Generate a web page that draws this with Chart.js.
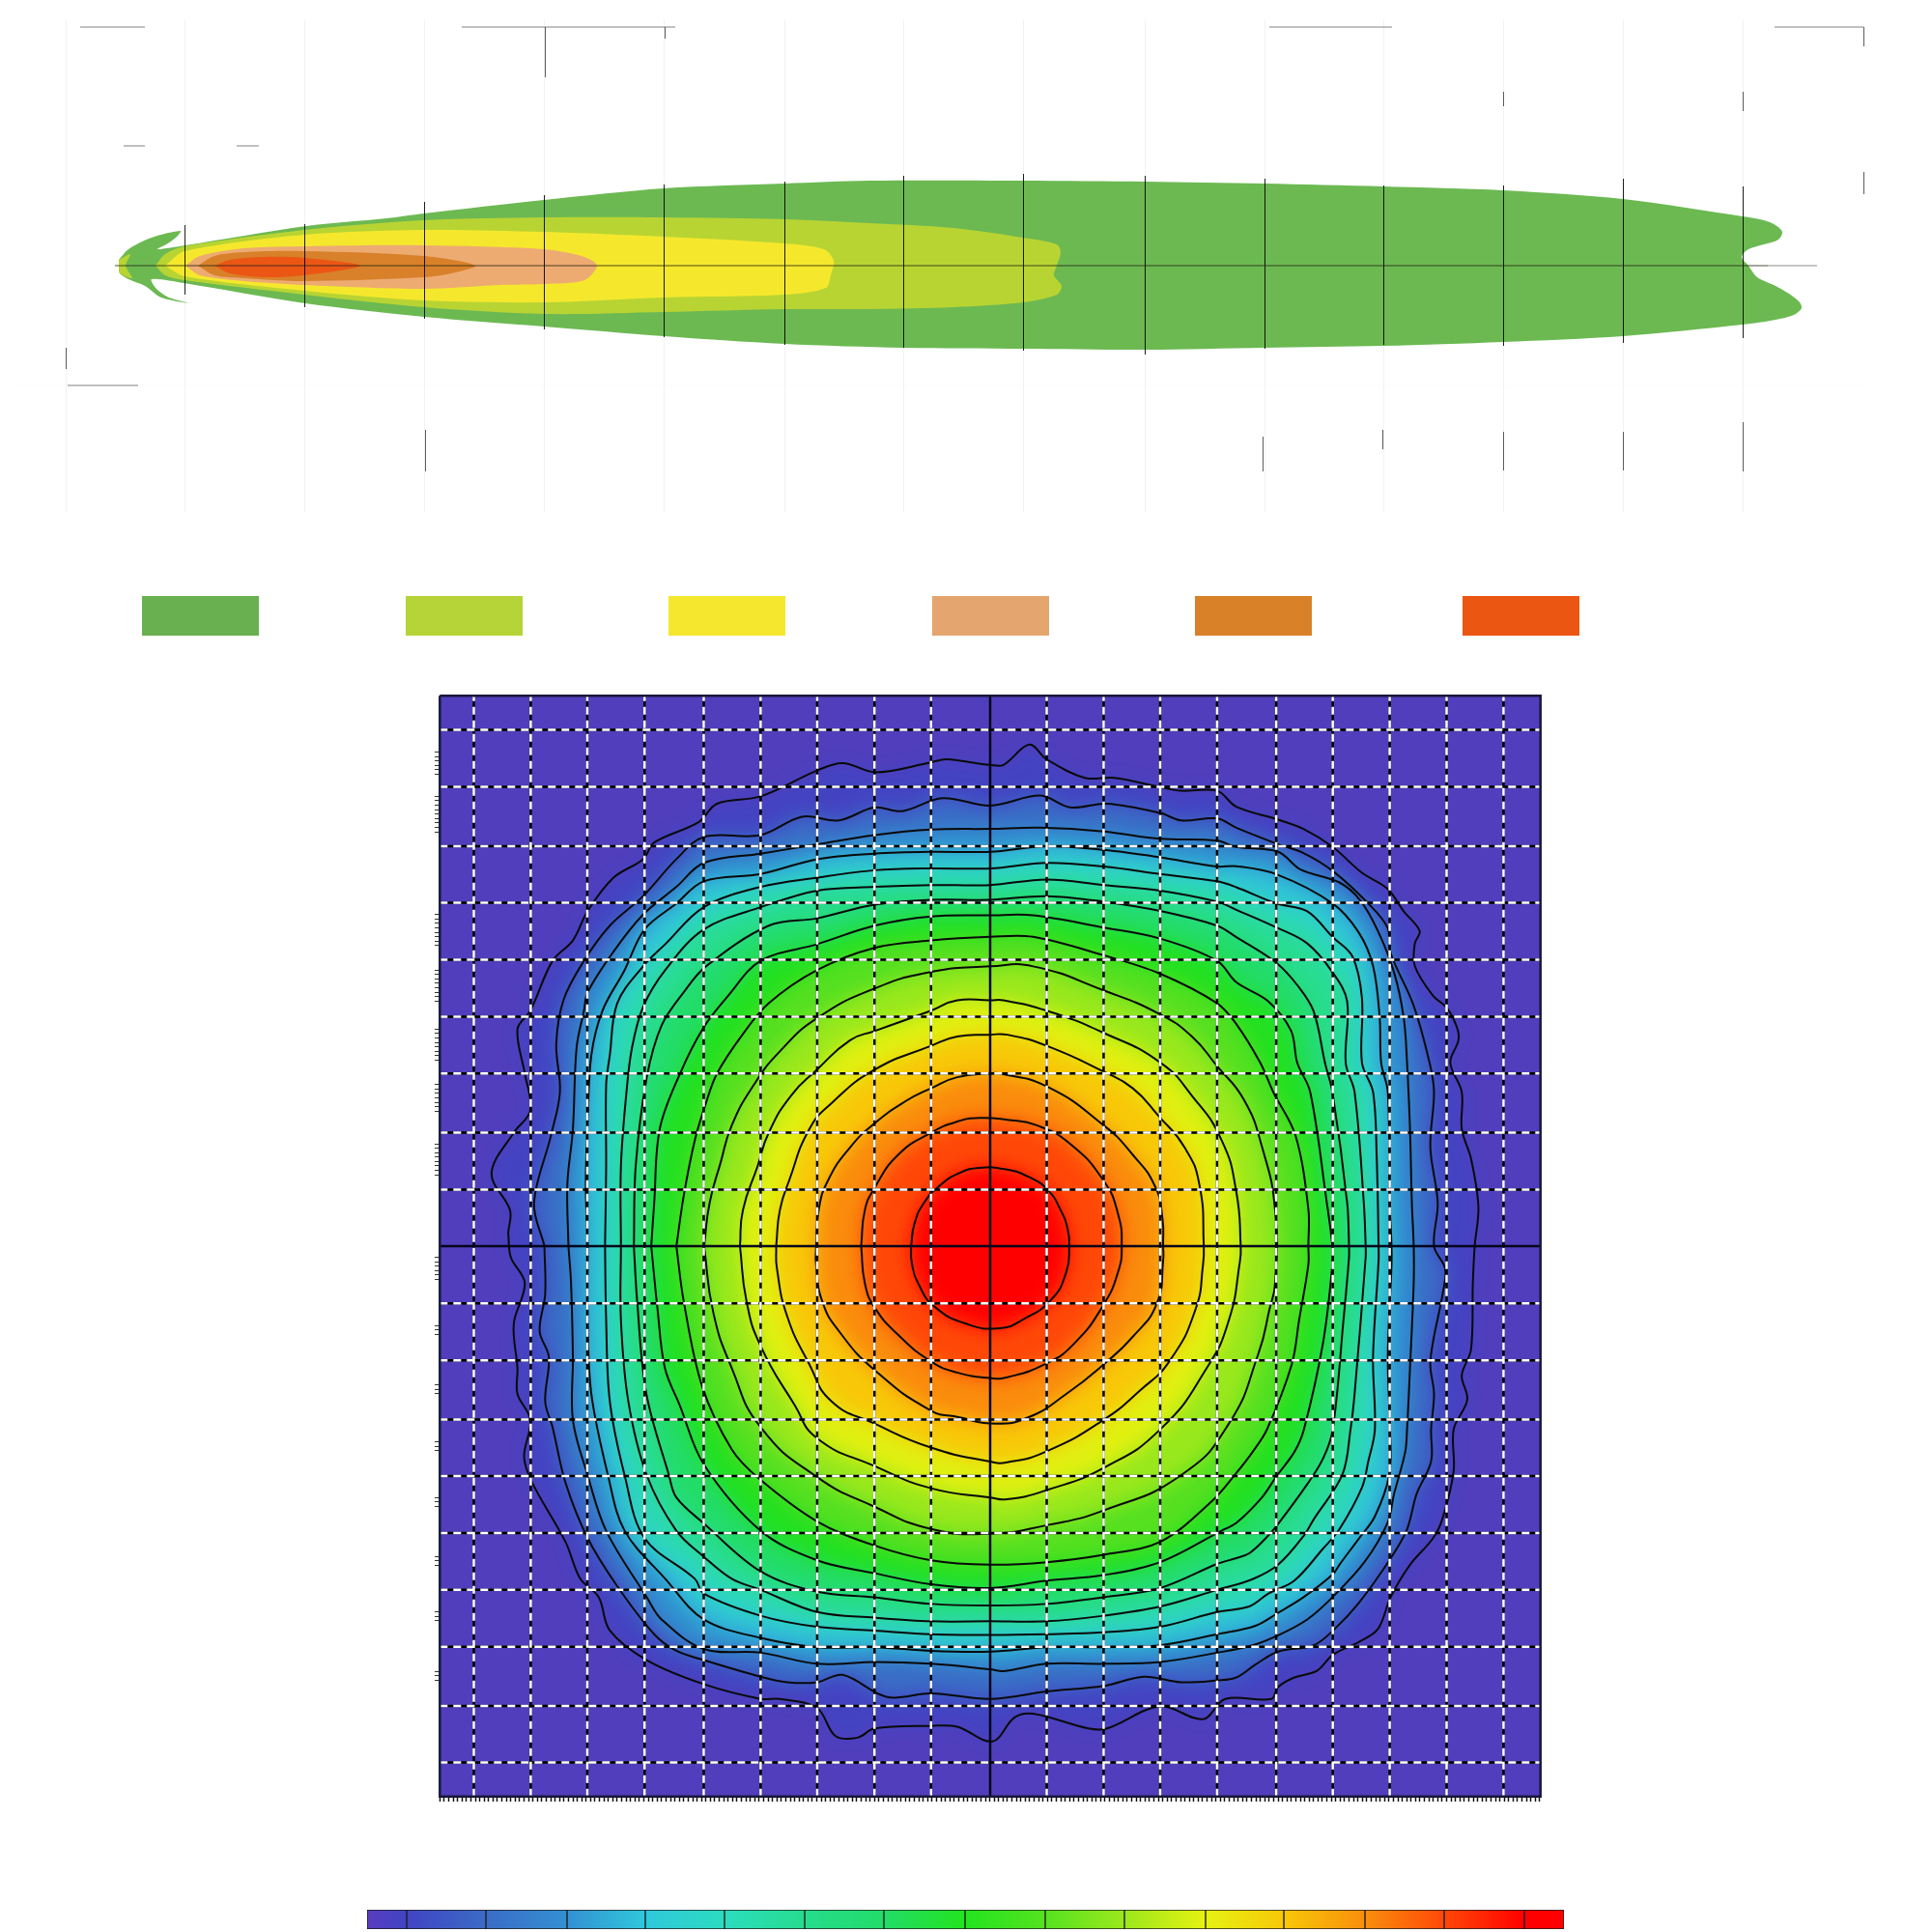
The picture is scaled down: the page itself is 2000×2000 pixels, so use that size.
<!DOCTYPE html>
<html>
<head>
<meta charset="utf-8">
<style>
  html, body { margin: 0; background: #fff; }
  #page { position: relative; width: 2000px; height: 2000px; overflow: hidden; }
  canvas { position: absolute; display: block; }
  #heatClip { position: absolute; left: 455px; top: 721px; width: 1140px; height: 1139px; overflow: hidden; }
  #heat { left: -55px; top: -61px; filter: blur(10px); background: #503EBC; }
</style>
<script src="https://cdn.jsdelivr.net/npm/chart.js@4/dist/chart.umd.min.js"></script>
</head>
<body>
<div id="page">
  <canvas id="iso" width="2000" height="700" style="left:0;top:0"></canvas>
  <div id="heatClip"><canvas id="heat" width="1250" height="1260"></canvas></div>
  <canvas id="over" width="1170" height="1180" style="left:440px;top:700px"></canvas>
  <canvas id="bar" width="1239" height="20" style="left:380px;top:1977px"></canvas>
</div>
<script>
/* isolux outlines: [distance, lateral offset] */
var isoGreen = [[123,6],[133,17],[157,29],[187,36],[182,29],[172,22],[163,17],[192,21],[317,41],[400,49],[439,54],[563,68],[687,80],[812,85],[900,88],[1059,88],[1185,87],[1309,85],[1432,82],[1556,78],[1680,69],[1804,51],[1826,47],[1838,42],[1845,35],[1841,27],[1826,22],[1810,17],[1803,9],[1810,0],[1819,-12],[1836,-20],[1852,-29],[1863,-38],[1865,-44],[1857,-51],[1838,-56],[1804,-61],[1680,-73],[1556,-79],[1432,-83],[1309,-85],[1185,-87],[1059,-86],[935,-85],[812,-81],[687,-73],[563,-63],[439,-53],[316,-39],[190,-18],[157,-14],[162,-24],[175,-33],[197,-39],[167,-33],[150,-21],[133,-14],[124,-8],[123,0]];
var isoLimeTip = [[123,6],[135,12],[130,0],[137,-13],[124,-8]];
var isoLime = [[161,0],[171,12],[191,20],[315,37],[439,47],[563,50],[687,50],[812,48],[900,44],[987,39],[1059,29],[1094,22],[1098,14],[1094,0],[1091,-10],[1099,-21],[1094,-30],[1059,-38],[987,-43],[900,-45],[812,-45],[687,-48],[563,-50],[439,-43],[315,-30],[191,-15],[171,-10]];
var isoYellow = [[171,0],[191,15],[315,32],[439,37],[563,35],[687,30],[812,23],[853,17],[863,5],[860,-10],[855,-23],[812,-30],[687,-33],[563,-38],[439,-36],[315,-26],[191,-11]];
var isoPeach = [[192,0],[207,10],[253,18],[315,20],[439,21],[563,17],[605,9],[618,0],[605,-15],[563,-19],[518,-20],[439,-24],[315,-20],[253,-16],[207,-10]];
var isoOrange = [[205,0],[222,10],[253,14],[315,15],[439,10],[492,0],[467,-8],[439,-12],[315,-16],[253,-13],[222,-10]];
var isoRed = [[222,0],[238,6],[273,9],[315,8],[373,0],[315,-10],[273,-12],[238,-8]];

var isoGridX = [191.5,315.5,439.5,563.5,687.5,812.5,935.5,1059.5,1185.5,1309.5,1432.5,1556.5,1680.5,1804.5];
var isoGridTop = [42,43,66,73,84,87,93,95,93,90,83,83,90,82];
var isoGridBottom = [-30,-43,-55,-66,-74,-82,-85,-88,-92,-86,-82,-83,-80,-75];
var isoFaintX = [68.5,191.5,315.5,439.5,563.5,687.5,812.5,935.5,1059.5,1185.5,1309.5,1432.5,1556.5,1680.5,1804.5];

var stubs = [
  [83,247,150,247],[478,247,699,247],[1314,247,1441,247],[1837,247,1929,247],
  [128,124,150,124],[245,124,268,124],[70,-124,143,-124],
  [564.5,247,564.5,195],[688.5,247,688.5,235],[1929.5,247,1929.5,227],[1929.5,97,1929.5,74],
  [1556.5,180,1556.5,165],[1804.5,180,1804.5,160],
  [440.5,-170,440.5,-213],[1307.5,-177,1307.5,-213],[1431.5,-170,1431.5,-190],[1556.5,-172,1556.5,-212],[1680.5,-172,1680.5,-212],[1804.5,-162,1804.5,-213],
  [68.5,-85,68.5,-107]
];

var swatchLeft = [147,420,692,965,1237,1514];
var swatchRight = [268,541,813,1086,1358,1635];
var swatchColors = ["#69B050","#B6D437","#F4E72D","#E5A56F","#D88128","#EB5613"];

/* beam pattern contours, outermost first */
var contour1 = [[-1304,37],[-1299,97],[-1349,197],[-1289,307],[-1244,367],[-1259,467],[-1279,587],[-1244,637],[-1184,772],[-1129,827],[-1089,907],[-1019,997],[-939,1047],[-909,1092],[-789,1147],[-739,1197],[-621,1217],[-468,1287],[-399,1307],[-309,1282],[-160,1309],[-119,1317],[0,1302],[36,1302],[106,1357],[153,1317],[256,1267],[336,1267],[460,1242],[516,1232],[614,1232],[666,1189],[779,1154],[849,1128],[927,1080],[1006,1010],[1075,967],[1119,906],[1162,853],[1149,819],[1149,758],[1197,679],[1236,644],[1263,592],[1267,557],[1245,496],[1276,417],[1276,317],[1301,237],[1321,107],[1311,0],[1306,-100],[1301,-280],[1276,-350],[1291,-415],[1254,-496],[1254,-609],[1223,-740],[1197,-792],[1136,-862],[1084,-949],[1049,-1036],[997,-1071],[927,-1106],[884,-1149],[823,-1167],[779,-1193],[761,-1225],[636,-1225],[576,-1280],[460,-1245],[316,-1305],[266,-1305],[116,-1265],[66,-1275],[6,-1340],[-89,-1300],[-160,-1298],[-313,-1305],[-359,-1330],[-419,-1325],[-468,-1250],[-569,-1225],[-621,-1225],[-775,-1185],[-929,-1120],[-1029,-1040],[-1059,-950],[-1109,-900],[-1149,-800],[-1239,-640],[-1261,-570],[-1244,-470],[-1279,-400],[-1279,-330],[-1289,-210],[-1259,-100],[-1297,-30]];
var contour2 = [[-1206,0],[-1234,117],[-1189,297],[-1164,417],[-1174,547],[-1154,667],[-1099,772],[-1029,867],[-939,947],[-849,1047],[-775,1107],[-621,1112],[-509,1162],[-409,1152],[-313,1187],[-239,1177],[-129,1212],[0,1192],[136,1219],[216,1187],[316,1197],[460,1172],[516,1152],[614,1157],[666,1132],[775,1089],[849,1063],[927,1015],[1023,927],[1075,862],[1084,792],[1145,653],[1189,496],[1201,417],[1191,267],[1211,117],[1201,0],[1231,-60],[1226,-120],[1191,-310],[1201,-400],[1193,-496],[1193,-583],[1154,-670],[1128,-766],[1084,-844],[997,-966],[932,-1036],[875,-1080],[779,-1097],[718,-1132],[666,-1167],[614,-1175],[516,-1180],[416,-1165],[307,-1190],[153,-1205],[0,-1225],[-160,-1210],[-279,-1220],[-399,-1160],[-468,-1180],[-549,-1180],[-621,-1165],[-775,-1120],[-849,-1095],[-909,-1050],[-1009,-920],[-1089,-790],[-1149,-640],[-1184,-490],[-1204,-420],[-1194,-300],[-1219,-230],[-1204,-130]];
var contour3 = [[-1141,0],[-1144,167],[-1129,317],[-1119,537],[-1099,637],[-1089,687],[-1019,797],[-939,897],[-849,972],[-775,1037],[-621,1062],[-468,1087],[-313,1112],[-160,1127],[0,1129],[136,1132],[307,1122],[460,1102],[614,1097],[666,1080],[779,1067],[840,1019],[945,984],[1001,936],[1049,853],[1093,740],[1119,618],[1128,496],[1136,317],[1141,117],[1146,0],[1146,-100],[1136,-330],[1128,-496],[1123,-557],[1093,-670],[1075,-749],[1014,-853],[927,-949],[858,-1010],[779,-1053],[710,-1080],[614,-1100],[460,-1125],[307,-1130],[153,-1130],[36,-1150],[0,-1145],[-160,-1130],[-313,-1125],[-468,-1130],[-621,-1100],[-775,-1090],[-889,-1010],[-929,-950],[-1039,-770],[-1089,-620],[-1129,-470],[-1129,-300],[-1134,-100]];
var contour4 = [[-1089,0],[-1094,167],[-1089,337],[-1079,517],[-1049,637],[-989,747],[-935,857],[-849,927],[-775,987],[-621,1007],[-468,1047],[-313,1062],[-160,1067],[0,1067],[153,1082],[307,1072],[460,1052],[614,1027],[666,1028],[775,1006],[927,927],[997,849],[1036,758],[1054,618],[1058,496],[1076,417],[1081,117],[1086,0],[1086,-50],[1076,-300],[1082,-496],[1080,-618],[1041,-731],[997,-792],[945,-862],[927,-888],[849,-949],[779,-992],[718,-1027],[614,-1050],[460,-1080],[307,-1085],[153,-1085],[0,-1097],[-160,-1095],[-313,-1085],[-468,-1085],[-621,-1060],[-775,-1010],[-879,-900],[-989,-770],[-1034,-620],[-1079,-400],[-1089,-200]];
var contour5 = [[-1042,0],[-1039,217],[-1039,437],[-1029,517],[-1009,657],[-939,757],[-879,817],[-775,917],[-621,972],[-468,997],[-313,1017],[-160,1022],[0,1022],[153,1037],[307,1027],[460,1007],[614,987],[666,971],[775,927],[858,906],[927,836],[980,784],[1006,671],[1006,496],[1036,417],[1046,237],[1051,0],[1051,-40],[1036,-300],[1041,-496],[1023,-583],[1006,-653],[945,-766],[901,-818],[823,-905],[753,-940],[701,-975],[614,-990],[460,-1030],[307,-1045],[153,-1050],[0,-1052],[-160,-1050],[-313,-1040],[-468,-1030],[-621,-1000],[-775,-940],[-799,-900],[-935,-790],[-989,-620],[-1029,-420],[-1039,-200]];
var contour6 = [[-999,0],[-999,217],[-984,417],[-969,537],[-939,647],[-879,747],[-775,857],[-621,917],[-468,962],[-313,972],[-160,977],[0,977],[153,992],[307,977],[460,962],[614,932],[666,910],[775,862],[858,819],[927,740],[966,662],[962,496],[986,417],[1011,117],[1016,0],[1016,-30],[986,-400],[975,-496],[953,-618],[875,-740],[849,-783],[779,-862],[710,-901],[614,-930],[460,-975],[307,-1000],[153,-1015],[0,-1015],[-160,-1015],[-313,-1005],[-468,-990],[-621,-930],[-699,-900],[-775,-840],[-849,-770],[-929,-620],[-979,-420],[-999,-200]];
var contour7 = [[-964,0],[-959,217],[-929,457],[-889,597],[-829,687],[-769,757],[-599,867],[-468,887],[-313,924],[-160,937],[0,937],[153,947],[307,932],[460,907],[614,867],[666,836],[775,766],[832,705],[875,636],[906,496],[926,417],[966,117],[971,0],[971,-30],[956,-200],[927,-496],[901,-574],[858,-644],[775,-757],[744,-792],[701,-831],[666,-844],[614,-860],[460,-925],[307,-950],[153,-968],[0,-972],[-160,-968],[-313,-950],[-468,-935],[-621,-880],[-775,-750],[-849,-680],[-869,-620],[-930,-400],[-955,-150]];
var contour8 = [[-917,0],[-909,117],[-894,317],[-839,467],[-775,592],[-709,677],[-621,772],[-468,817],[-313,867],[-160,892],[0,895],[116,895],[307,862],[460,832],[614,772],[666,714],[753,662],[814,583],[831,496],[866,417],[911,117],[926,0],[926,-50],[901,-260],[849,-496],[823,-557],[775,-622],[736,-679],[666,-749],[626,-770],[460,-855],[307,-890],[153,-905],[0,-925],[-160,-915],[-313,-885],[-468,-850],[-621,-770],[-775,-590],[-840,-430],[-880,-330],[-900,-170]];
var contour9 = [[-849,0],[-829,137],[-799,287],[-769,387],[-739,467],[-674,567],[-599,657],[-468,747],[-313,807],[-160,827],[0,837],[116,837],[307,787],[460,737],[614,657],[666,601],[731,496],[766,417],[826,300],[861,100],[861,0],[861,-50],[836,-200],[816,-320],[749,-496],[710,-557],[666,-614],[600,-690],[460,-800],[307,-835],[153,-855],[0,-862],[-160,-850],[-313,-810],[-468,-745],[-624,-630],[-699,-550],[-779,-380],[-829,-150]];
var contour10 = [[-774,0],[-759,117],[-729,227],[-699,327],[-639,437],[-569,527],[-468,617],[-313,697],[-160,742],[0,757],[116,757],[307,692],[460,627],[546,567],[614,487],[686,397],[736,267],[771,97],[771,-100],[756,-170],[726,-290],[646,-480],[516,-620],[307,-715],[153,-755],[0,-778],[-160,-765],[-313,-705],[-468,-625],[-621,-490],[-699,-330],[-749,-180]];
var contour11 = [[-677,0],[-669,97],[-629,217],[-599,307],[-539,407],[-469,477],[-379,557],[-313,582],[-160,637],[-89,665],[0,665],[36,665],[153,637],[307,577],[460,497],[546,407],[626,287],[666,147],[678,0],[676,-40],[646,-200],[586,-330],[461,-495],[307,-600],[153,-660],[46,-685],[0,-680],[-160,-655],[-313,-595],[-468,-520],[-529,-430],[-621,-270],[-659,-150]];
var contour12 = [[-579,0],[-569,97],[-544,177],[-489,317],[-429,387],[-313,477],[-160,542],[-89,567],[0,572],[46,572],[153,542],[307,472],[386,427],[456,352],[526,267],[566,167],[578,0],[576,-50],[556,-170],[486,-310],[406,-390],[307,-470],[153,-555],[46,-585],[0,-583],[-160,-545],[-313,-480],[-429,-420],[-489,-320],[-549,-190],[-577,-60]];
var contour13 = [[-471,0],[-464,97],[-439,177],[-379,267],[-313,332],[-229,392],[-160,427],[-89,457],[0,467],[26,467],[153,432],[307,327],[386,247],[446,162],[466,77],[468,0],[468,-40],[451,-155],[386,-245],[307,-320],[206,-400],[106,-462],[16,-480],[-89,-462],[-160,-445],[-313,-335],[-409,-230],[-454,-150],[-471,-50]];
var contour14 = [[-349,0],[-339,97],[-313,157],[-249,247],[-160,307],[-89,337],[-29,347],[46,342],[126,327],[216,277],[307,177],[346,87],[356,0],[346,-70],[306,-160],[226,-265],[151,-318],[46,-355],[0,-357],[-89,-342],[-160,-312],[-249,-240],[-313,-165],[-339,-100]];
var contour15 = [[-214,0],[-205,60],[-179,117],[-135,165],[-85,197],[-29,212],[46,207],[105,187],[156,152],[191,97],[210,45],[214,0],[206,-70],[165,-145],[86,-200],[26,-222],[-59,-212],[-149,-165],[-195,-100],[-212,-45]];
var contours = [contour1,contour2,contour3,contour4,contour5,contour6,contour7,contour8,contour9,contour10,contour11,contour12,contour13,contour14,contour15];
var bandColors = ["#4343C2","#3A6CC6","#3090D0","#30C4D8","#2CD8B8","#28DC90","#22DC68","#22E020","#55E020","#98E81C","#E0F010","#F8C808","#FA8C0C","#FF4808","#FF0000"];

var gridXLines = [-1397,-1243,-1090,-935,-775,-621,-468,-313,-160,153,307,460,614,774,927,1081,1235,1389];
var gridYLines = [1397,1243,1082,929,775,621,467,307,153,-155,-309,-469,-622,-776,-930,-1084,-1244,-1397];
var axisTickStep = 12;
var leftTickBands = [[1337,1272],[1217,1117],[897,807],[747,657],[587,497],[437,357],[277,182],[-30,-95],[-215,-250],[-375,-410],[-530,-565],[-680,-715],[-840,-870],[-990,-1025],[-1150,-1185]];

var barBreaks = [380,421,503,587,668,750,833,915,999,1082,1164,1248,1329,1413,1495,1578,1619];
var barStops = ["#5A3CC0","#4044C4","#3A6CC6","#3490D2","#2FC8DC","#2CDCC0","#26DC8E","#22DC68","#22E41E","#55E220","#9CE81C","#E6F212","#F8C808","#F98E0C","#FF4808","#FF0000","#FF0000"];

function pts(list) {
  return list.map(function (p) { return { x: p[0], y: p[1] }; });
}
function closed(list) {
  return pts(list.concat([list[0]]));
}
/* several separate strokes in one dataset, broken by gaps */
function strokes(list) {
  var out = [];
  list.forEach(function (s) {
    out.push({ x: s[0], y: s[1] }, { x: s[2], y: s[3] }, { x: s[2], y: NaN });
  });
  return out;
}
function fillDS(list, color, order, tension) {
  return {
    data: closed(list), showLine: true, fill: "shape", backgroundColor: color, borderColor: color,
    borderWidth: 0, pointRadius: 0, tension: tension, order: order
  };
}
function lineDS(data, color, width, order, dash, tension) {
  return {
    data: data, showLine: true, fill: false, borderColor: color, borderWidth: width, pointRadius: 0,
    borderDash: dash || [], tension: tension || 0, order: order
  };
}
function hiddenScale(min, max) {
  return { type: "linear", display: false, min: min, max: max };
}
function contourTension(i) {
  return i >= 9 ? 0.5 : 0.35;
}
var baseOpts = { responsive: false, animation: false, layout: { padding: 0 }, plugins: { legend: { display: false }, tooltip: { enabled: false } } };
function opts(scales) {
  return Object.assign({}, baseOpts, { scales: scales });
}

/* top chart */
(function () {
  var ds = [
    fillDS(isoGreen, "#6CB952", 90, 0.3),
    fillDS(isoLimeTip, "#B8D433", 85, 0.2),
    fillDS(isoLime, "#B8D433", 80, 0.3),
    fillDS(isoYellow, "#F5E82C", 70, 0.3),
    fillDS(isoPeach, "#EDAB72", 60, 0.3),
    fillDS(isoOrange, "#D8812A", 50, 0.3),
    fillDS(isoRed, "#EB5615", 40, 0.3)
  ];
  swatchLeft.forEach(function (l, i) {
    ds.push(fillDS([[l,-342],[swatchRight[i],-342],[swatchRight[i],-383],[l,-383]], swatchColors[i], 95, 0));
  });
  ds.push(lineDS(strokes(isoFaintX.map(function (x) { return [x, 255, x, -255]; })), "rgba(0,0,0,.018)", 1, 100));
  ds.push(lineDS(strokes([[20,-124,1930,-124]]), "rgba(0,0,0,.02)", 1, 100));
  ds.push(lineDS(strokes(stubs), "rgba(90,90,90,.75)", 1, 30));
  ds.push(lineDS(strokes(isoGridX.map(function (x, i) { return [x, isoGridTop[i], x, isoGridBottom[i]]; })), "rgba(0,0,0,.5)", 1, 20));
  ds.push(lineDS(strokes([[119,0,1830,0]]), "rgba(40,40,20,.55)", 1.5, 10));
  ds.push(lineDS(strokes([[1830,0,1881,0]]), "rgba(0,0,0,.3)", 1.5, 10));
  new Chart(document.getElementById("iso"), {
    type: "scatter", data: { datasets: ds },
    options: opts({ x: hiddenScale(0, 2000), y: hiddenScale(-425, 275) })
  });
})();

/* filled bands under the contour lines */
(function () {
  var ds = contours.map(function (c, i) { return fillDS(c, bandColors[i], 100 - i, contourTension(i)); });
  new Chart(document.getElementById("heat"), {
    type: "scatter", data: { datasets: ds },
    options: opts({ x: hiddenScale(-1633, 1633), y: hiddenScale(-1646, 1646) })
  });
})();

/* contour lines, dashed grid, frame and axis ticks */
(function () {
  var L = 1489, ds = [];
  contours.forEach(function (c, i) { ds.push(lineDS(closed(c), "#0a0a0a", 2, 50, null, contourTension(i))); });
  var gridStrokes = gridXLines.map(function (x) { return [x, -L, x, L]; })
    .concat(gridYLines.map(function (y) { return [-L, y, L, y]; }));
  ds.push(lineDS(strokes(gridStrokes), "#fff", 2.5, 30, [8, 6]));
  ds.push(lineDS(strokes(gridStrokes), "#000", 2.5, 40));
  ds.push(lineDS(strokes([[0, -L, 0, L], [-L, 0, L, 0]]), "#05051a", 2.5, 20));
  ds.push(lineDS(closed([[-L, L], [L, L], [L, -L], [-L, -L]]), "#18183a", 2.5, 10));
  var xTicks = [];
  for (var t = -L; t <= L; t += axisTickStep) xTicks.push({ value: t });
  var yTicks = [];
  leftTickBands.forEach(function (b) {
    for (var v = b[0]; v >= b[1]; v -= axisTickStep) yTicks.push({ value: v });
  });
  new Chart(document.getElementById("over"), {
    type: "scatter", data: { datasets: ds },
    options: opts({
      x: {
        type: "linear", min: -1529, max: 1529, position: { y: -L },
        afterBuildTicks: function (s) { s.ticks = xTicks; },
        ticks: { display: false }, border: { display: false },
        grid: { drawOnChartArea: false, tickLength: 5, tickWidth: 1.5, tickColor: "#111" }
      },
      y: {
        type: "linear", min: -1542, max: 1542, position: { x: -L },
        afterBuildTicks: function (s) { s.ticks = yTicks; },
        ticks: { display: false }, border: { display: false },
        grid: { drawOnChartArea: false, tickLength: 5, tickWidth: 1, tickColor: "#333" }
      }
    })
  });
})();

/* colour bar */
(function () {
  var ds = barBreaks.slice(0, -1).map(function (b, i) {
    return {
      data: [[b, barBreaks[i + 1]]],
      backgroundColor: function (c) {
        var g = c.chart.ctx.createLinearGradient(0, 0, c.chart.width, 0);
        var x0 = (b - 380) / 1239, x1 = (barBreaks[i + 1] - 380) / 1239;
        g.addColorStop(x0, barStops[i]);
        g.addColorStop(x1, barStops[i + 1]);
        return g;
      },
      borderColor: "#1c1c1c", borderWidth: { left: 1, right: 1, top: 1, bottom: 1 }, borderSkipped: false,
      barPercentage: 1, categoryPercentage: 1, grouped: false
    };
  });
  new Chart(document.getElementById("bar"), {
    type: "bar", data: { labels: [""], datasets: ds },
    options: Object.assign({}, baseOpts, {
      indexAxis: "y",
      scales: { x: hiddenScale(380, 1619), y: { display: false } }
    })
  });
})();
</script>
</body>
</html>
